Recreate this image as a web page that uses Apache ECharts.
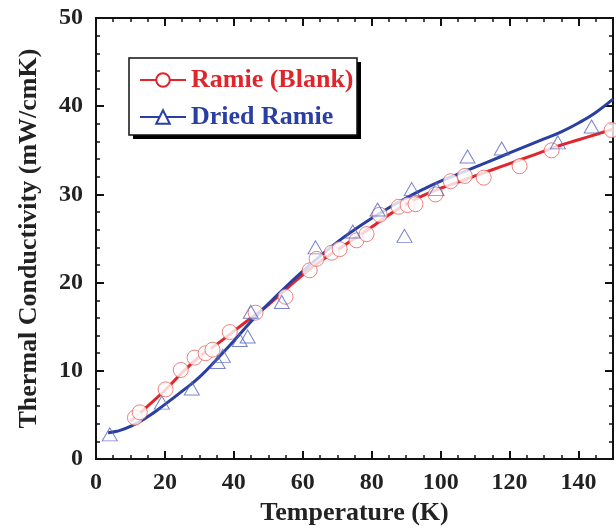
<!DOCTYPE html>
<html>
<head>
<meta charset="utf-8">
<script src="https://cdn.jsdelivr.net/npm/echarts@6/dist/echarts.min.js"></script>
<style>
  html, body { margin: 0; padding: 0; background: #fff; }
  #chart { width: 616px; height: 531px; }
</style>
</head>
<body>
<div id="chart"></div>
<script>
// measured points, Ramie (Blank): [T, conductivity]
var blankPoints = [
    [11.3, 4.7], [12.7, 5.3], [20.2, 7.9], [24.6, 10.1], [28.6, 11.5], [31.8, 12.0],
    [33.8, 12.4], [38.8, 14.4], [46.3, 16.6], [55.0, 18.4], [62.0, 21.4], [64.0, 22.7],
    [68.4, 23.4], [70.7, 23.8], [75.6, 24.8], [78.5, 25.5], [82.3, 27.7], [87.8, 28.6],
    [90.4, 28.8], [92.7, 28.9], [98.5, 30.0], [102.9, 31.5], [107.0, 32.1], [112.5, 31.9],
    [122.9, 33.2], [132.2, 35.0], [149.6, 37.3]
];
// measured points, Dried Ramie
var driedPoints = [
    [4.0, 2.8], [19.1, 6.4], [27.8, 8.0], [35.3, 11.0], [36.8, 11.7], [41.7, 13.5],
    [44.0, 13.9], [44.9, 16.7], [53.9, 17.8], [63.7, 24.0], [74.5, 25.8], [81.7, 28.3],
    [89.5, 25.3], [91.6, 30.6], [98.8, 30.6], [107.8, 34.3], [117.7, 35.2], [134.0, 35.9],
    [143.8, 37.7]
];
// fitted curves
var blankFit = [
    [10, 4.3], [15, 6.0], [20, 7.8], [25, 9.8], [30, 11.6], [35, 13.0], [40, 14.5],
    [45, 16.0], [50, 17.5], [55, 19.2], [60, 20.9], [65, 22.4], [70, 23.7], [75, 25.0],
    [80, 26.3], [85, 27.7], [90, 28.9], [95, 29.9], [100, 30.7], [105, 31.4], [110, 32.1],
    [115, 32.8], [120, 33.5], [125, 34.2], [130, 34.9], [135, 35.6], [140, 36.2],
    [145, 36.8], [150, 37.4]
];
var driedFit = [
    [3.5, 3.0], [6, 3.15], [10, 3.7], [15, 4.8], [20, 6.2], [25, 7.7], [30, 9.3],
    [35, 11.3], [40, 13.4], [45, 15.6], [50, 17.6], [55, 19.5], [60, 21.3], [65, 23.0],
    [70, 24.6], [75, 26.0], [80, 27.3], [85, 28.5], [90, 29.6], [95, 30.6], [100, 31.5],
    [105, 32.3], [110, 33.1], [115, 33.9], [120, 34.7], [125, 35.5], [130, 36.3],
    [135, 37.1], [140, 38.1], [145, 39.3], [150, 40.8]
];

var RED = '#e0252b';
var BLUE = '#2a3fa3';
var FONT = '"Liberation Serif", "Times New Roman", serif';

var chart = echarts.init(document.getElementById('chart'));

function xAxisDef(pos, major) {
    return {
        type: 'value', position: pos, min: 0, max: 150,
        interval: major ? 20 : 5,
        axisLine: { show: true, onZero: false, lineStyle: { color: '#111', width: 2 } },
        axisTick: { show: true, inside: true, length: major ? 8 : 4, lineStyle: { color: '#111', width: major ? 2 : 1.5 } },
        axisLabel: {
            show: major && pos === 'bottom', margin: 12,
            color: '#222', fontFamily: FONT, fontWeight: 'bold', fontSize: 24,
            formatter: function (v) { return v > 140 ? '' : v; }
        },
        splitLine: { show: false },
        name: major && pos === 'bottom' ? 'Temperature (K)' : '',
        nameLocation: 'middle', nameGap: 39,
        nameTextStyle: { color: '#222', fontFamily: FONT, fontWeight: 'bold', fontSize: 26 }
    };
}

function yAxisDef(pos) {
    return {
        type: 'value', position: pos, min: 0, max: 50, interval: 10,
        axisLine: { show: true, onZero: false, lineStyle: { color: '#111', width: 2 } },
        axisTick: { show: true, inside: true, length: 8, lineStyle: { color: '#111', width: 2 } },
        minorTick: { show: true, splitNumber: 5, length: 4, lineStyle: { color: '#111', width: 1.5 } },
        axisLabel: {
            show: pos === 'left', margin: 13,
            color: '#222', fontFamily: FONT, fontWeight: 'bold', fontSize: 24
        },
        splitLine: { show: false },
        minorSplitLine: { show: false },
        name: pos === 'left' ? 'Thermal Conductivity (mW/cmK)' : '',
        nameLocation: 'middle', nameGap: 54,
        nameTextStyle: { color: '#222', fontFamily: FONT, fontWeight: 'bold', fontSize: 26 }
    };
}

var option = {
    backgroundColor: '#fff',
    animation: false,
    grid: { left: 96, right: 2, top: 18, bottom: 69 },
    xAxis: [xAxisDef('bottom', true), xAxisDef('bottom', false), xAxisDef('top', true), xAxisDef('top', false)],
    yAxis: [yAxisDef('left'), yAxisDef('right')],
    // legend frame with its drop shadow
    graphic: [
        { type: 'rect', z: 3, shape: { x: 133, y: 62, width: 228, height: 77 }, style: { fill: '#000' } },
        { type: 'rect', z: 3, shape: { x: 129, y: 58, width: 228, height: 77 }, style: { fill: '#fff', stroke: '#111', lineWidth: 1.5 } }
    ],
    legend: {
        orient: 'vertical', left: 129, top: 58, z: 5,
        padding: [9, 5, 5, 10], itemGap: 11,
        itemWidth: 46, itemHeight: 17,
        textStyle: { fontFamily: FONT, fontWeight: 'bold', fontSize: 26 },
        data: [
            { name: 'Ramie (Blank)', textStyle: { color: RED } },
            { name: 'Dried Ramie', textStyle: { color: BLUE } }
        ]
    },
    series: [
        {
            name: 'Ramie (Blank)', type: 'line', data: blankFit, smooth: true,
            symbol: 'emptyCircle', showSymbol: false, color: RED,
            lineStyle: { color: RED, width: 3 }, itemStyle: { color: RED }, z: 2
        },
        {
            name: 'Dried Ramie', type: 'line', data: driedFit, smooth: true,
            symbol: 'emptyTriangle', showSymbol: false, color: BLUE,
            lineStyle: { color: BLUE, width: 3 }, itemStyle: { color: BLUE }, z: 2
        },
        {
            name: 'Ramie (Blank) data', type: 'scatter', data: blankPoints,
            symbol: 'circle', symbolSize: 15,
            itemStyle: { color: '#fff', borderColor: '#e8625c', borderWidth: 1 }, z: 3
        },
        {
            name: 'Dried Ramie data', type: 'scatter', data: driedPoints,
            symbol: 'triangle', symbolSize: [15, 13],
            itemStyle: { color: 'rgba(255,255,255,0)', borderColor: '#5566c0', borderWidth: 1 }, z: 4
        }
    ]
};
chart.setOption(option);
</script>
</body>
</html>
